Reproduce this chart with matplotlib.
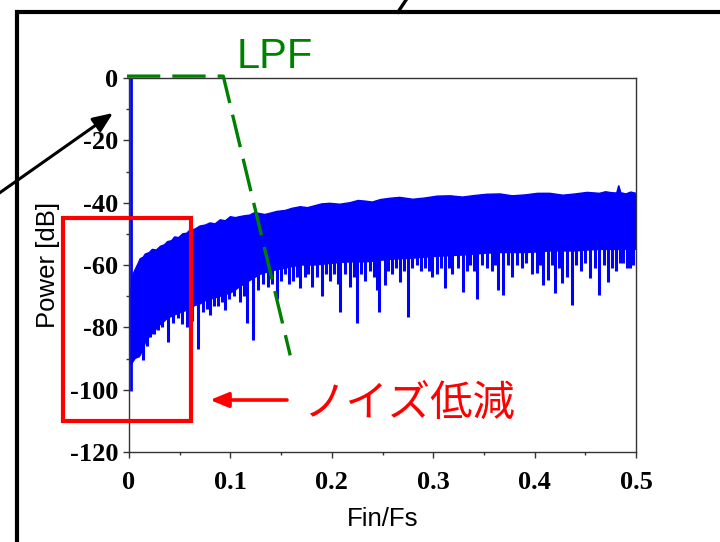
import matplotlib
matplotlib.use('Agg')
import matplotlib.pyplot as plt
import numpy as np
from matplotlib.patches import Rectangle, FancyArrowPatch
from matplotlib.lines import Line2D

# ---------------- data ----------------
x_ticks = [0, 0.1, 0.2, 0.3, 0.4, 0.5]
x_tick_labels = ['0', '0.1', '0.2', '0.3', '0.4', '0.5']
y_ticks = [0, -20, -40, -60, -80, -100, -120]
y_tick_labels = ['0', '-20', '-40', '-60', '-80', '-100', '-120']

# signal tone
tone_x = [0.0015]
tone_db = [0.0]
tone_floor = [-100.5]

# noise spectrum: upper envelope (with its small teeth) and solid-body floor
spec_x = [0.002, 0.004, 0.006, 0.009, 0.011, 0.014, 0.016, 0.020, 0.023, 0.027,
          0.031, 0.035, 0.038, 0.042, 0.045, 0.049, 0.053, 0.057, 0.060, 0.065,
          0.070, 0.075, 0.080, 0.085, 0.090, 0.095, 0.100, 0.105, 0.109, 0.114,
          0.119, 0.124, 0.129, 0.134, 0.139, 0.146, 0.154, 0.161, 0.169, 0.176,
          0.183, 0.190, 0.198, 0.208, 0.218, 0.226, 0.233, 0.240, 0.248, 0.257,
          0.267, 0.280, 0.292, 0.304, 0.317, 0.329, 0.341, 0.353, 0.366, 0.378,
          0.391, 0.403, 0.415, 0.428, 0.440, 0.452, 0.464, 0.470, 0.476, 0.481,
          0.483, 0.485, 0.490, 0.495, 0.500]
spec_top = [-68, -63, -61.5, -59.5, -58, -57.5, -56.5, -56, -55, -55.2,
            -54, -53.5, -52.5, -52.2, -51, -51.2, -50, -49.8, -48.8, -48.5,
            -47.5, -47.2, -46.5, -46.8, -45.5, -45.8, -44.5, -44.8, -44.5, -44.2,
            -44, -43.2, -43.5, -43.8, -43.4, -42.8, -42.5, -41.8, -41.3, -41.6,
            -41, -40.4, -40.2, -40.5, -40, -39.3, -39.5, -39.8, -39, -38.6,
            -38.3, -38.9, -38.5, -37.9, -37.8, -38.2, -37.7, -37.3, -37.2, -37.8,
            -37.5, -37.0, -37, -37.6, -37.2, -36.7, -37, -36.5, -36.8, -36.9,
            -34.5, -36.8, -37.2, -36.6, -37]
spec_floor = [-92, -91, -90, -89.5, -89, -87, -85, -83, -82, -80.5,
              -79, -78, -77, -76.5, -76, -75.5, -75, -74.5, -74, -73,
              -72.5, -71.5, -71, -70.5, -70, -69.5, -69, -68, -67, -66,
              -65, -64, -63, -62.5, -62, -61.5, -61, -60.5, -60, -60,
              -60, -59.8, -59.5, -59.2, -59, -59, -59, -58.8, -58.5, -58.2,
              -58, -57.8, -57.5, -57.2, -57, -56.8, -56.5, -56.2, -56, -56,
              -56, -55.8, -55.5, -55.5, -55.5, -55.2, -55, -55, -55, -55,
              -55, -55, -55, -55, -55]

# downward spikes below the solid body
spike_x = [0.009, 0.014, 0.018, 0.021, 0.025, 0.029, 0.033, 0.038, 0.043, 0.048,
           0.052, 0.057, 0.062, 0.068, 0.073, 0.077, 0.080, 0.084, 0.088, 0.092,
           0.095, 0.099, 0.104, 0.109, 0.113, 0.116, 0.122, 0.127, 0.132, 0.137,
           0.141, 0.146, 0.150, 0.154, 0.158, 0.162, 0.166, 0.169, 0.174, 0.177,
           0.180, 0.185, 0.190, 0.194, 0.198, 0.202, 0.206, 0.208, 0.213, 0.218,
           0.222, 0.225, 0.229, 0.233, 0.238, 0.242, 0.245, 0.247, 0.252, 0.255,
           0.259, 0.263, 0.267, 0.271, 0.275, 0.279, 0.284, 0.288, 0.292, 0.296,
           0.299, 0.304, 0.308, 0.312, 0.316, 0.319, 0.324, 0.329, 0.333, 0.336,
           0.340, 0.343, 0.348, 0.353, 0.358, 0.361, 0.364, 0.369, 0.374, 0.378,
           0.383, 0.388, 0.392, 0.397, 0.402, 0.405, 0.408, 0.413, 0.417, 0.420,
           0.424, 0.427, 0.432, 0.437, 0.441, 0.446, 0.450, 0.455, 0.460, 0.464,
           0.468, 0.472, 0.476, 0.480, 0.484, 0.487, 0.491, 0.494, 0.497]
spike_db = [-89.5, -90.5, -86, -83, -82, -81, -80, -84.6, -78.6, -77,
            -79, -80, -78, -87, -75, -74, -76, -73, -73, -72,
            -74.5, -71, -70, -72, -70, -78.6, -84, -68, -66, -67,
            -66, -71, -65, -63, -66, -65, -64, -67.4, -64, -63,
            -67, -64, -70, -63, -65, -63, -66, -75, -63, -67,
            -64, -78.6, -63, -65, -62, -64, -68, -75, -66.5, -62,
            -63, -61, -65.5, -62, -76.6, -61, -60, -62, -61, -62,
            -63.8, -63, -61, -67.4, -61, -63, -61, -68.6, -62, -60,
            -62, -71, -60, -61, -62, -60, -68, -69.6, -60, -63.8,
            -60, -61, -59.5, -63, -62.6, -60, -66.4, -64.8, -60, -69,
            -61, -65.8, -63.8, -72.8, -60, -62, -59.5, -64.2, -61, -69.6,
            -60, -65.4, -61, -62, -59.5, -59.4, -61, -61, -60]

# LPF response (dashed)
lpf_x = [-0.002, 0.093, 0.159]
lpf_db = [0.6, 0.6, -89]

# ---------------- figure ----------------
W, H = 720, 542
fig = plt.figure(figsize=(7.2, 5.42), dpi=100)
fig.patch.set_facecolor('white')


def fx(px):
    return px / W


def fy(py):
    return 1 - py / H


ax = fig.add_axes([fx(129), fy(452), (636 - 129) / W, (452 - 78) / H])
ax.set_xlim(0, 0.5)
ax.set_ylim(-120, 0)

blue = '#0000ff'
poly_x = list(spec_x) + list(spec_x)[::-1]
poly_y = list(spec_top) + list(spec_floor)[::-1]
ax.fill(poly_x, poly_y, facecolor=blue, edgecolor=blue, lw=1.0, zorder=2)
floor_at = np.interp(spike_x, spec_x, spec_floor)
ax.vlines(spike_x, spike_db, floor_at + 4, color=blue, lw=2.2, zorder=2)
ax.vlines(tone_x, tone_floor, tone_db, color=blue, lw=2.0, zorder=2)

ax.plot(lpf_x, lpf_db, color='#008000', lw=2.4, dashes=(10, 3.6), clip_on=False, zorder=4)

# axes styling
for s in ax.spines.values():
    s.set_color('#333333')
    s.set_linewidth(1.0)
ax.set_xticks(x_ticks)
ax.set_xticklabels(x_tick_labels)
ax.set_yticks(y_ticks)
ax.set_yticklabels(y_tick_labels)
ax.set_xticks([0.05, 0.15, 0.25, 0.35, 0.45], minor=True)
ax.set_yticks([-10, -30, -50, -70, -90, -110], minor=True)
ax.tick_params(which='major', direction='out', length=4.5, width=1.0, color='#333333')
ax.tick_params(which='minor', direction='out', length=2.5, width=1.0, color='#333333')
ax.tick_params(axis='x', which='major', pad=9)
ax.tick_params(axis='y', which='major', pad=3)
for lab in ax.get_xticklabels() + ax.get_yticklabels():
    lab.set_fontfamily('Liberation Serif')
    lab.set_fontweight('bold')
    lab.set_fontsize(19)

ax.set_xlabel('Fin/Fs', fontsize=18.5, family='Liberation Sans')
ax.xaxis.set_label_coords(0.5, -0.148)
ax.set_ylabel('Power [dB]', fontsize=18.5, family='Liberation Sans')
ax.yaxis.set_label_coords(-0.136, 0.5)

# ---------------- annotations ----------------
fig.text(fx(237), fy(68), 'LPF', ha='left', va='baseline', fontsize=30,
         family='Liberation Sans', color='#008000')

fig.text(fx(303), fy(404), 'ノイズ低減', ha='left', va='center', fontsize=30.5,
         family=['Noto Sans CJK JP', 'DejaVu Sans'], color='#ff0000')

fig.add_artist(Rectangle((fx(63), fy(421)), (191 - 63) / W, (421 - 218) / H,
                         transform=fig.transFigure, fill=False, ec='#ff0000', lw=3.0))

fig.add_artist(FancyArrowPatch((fx(287), fy(400)), (fx(210), fy(400)),
                               transform=fig.transFigure,
                               arrowstyle='-|>,head_length=1.1,head_width=0.45',
                               mutation_scale=10, lw=2.6, color='#ff0000',
                               shrinkA=0, shrinkB=0))

fig.add_artist(FancyArrowPatch((fx(-2), fy(194)), (fx(113), fy(113)),
                               transform=fig.transFigure,
                               arrowstyle='-|>,head_length=1.2,head_width=0.5',
                               mutation_scale=10, lw=2.2, color='black',
                               shrinkA=0, shrinkB=0))

fig.add_artist(Line2D([fx(17), fx(17), fx(725)], [fy(548), fy(12), fy(12)],
                      transform=fig.transFigure, lw=3.0, color='black',
                      solid_joinstyle='miter'))
fig.add_artist(Line2D([fx(408), fx(398)], [fy(-3), fy(12)],
                      transform=fig.transFigure, lw=2.4, color='black'))

fig.savefig('out.png', dpi=100)
